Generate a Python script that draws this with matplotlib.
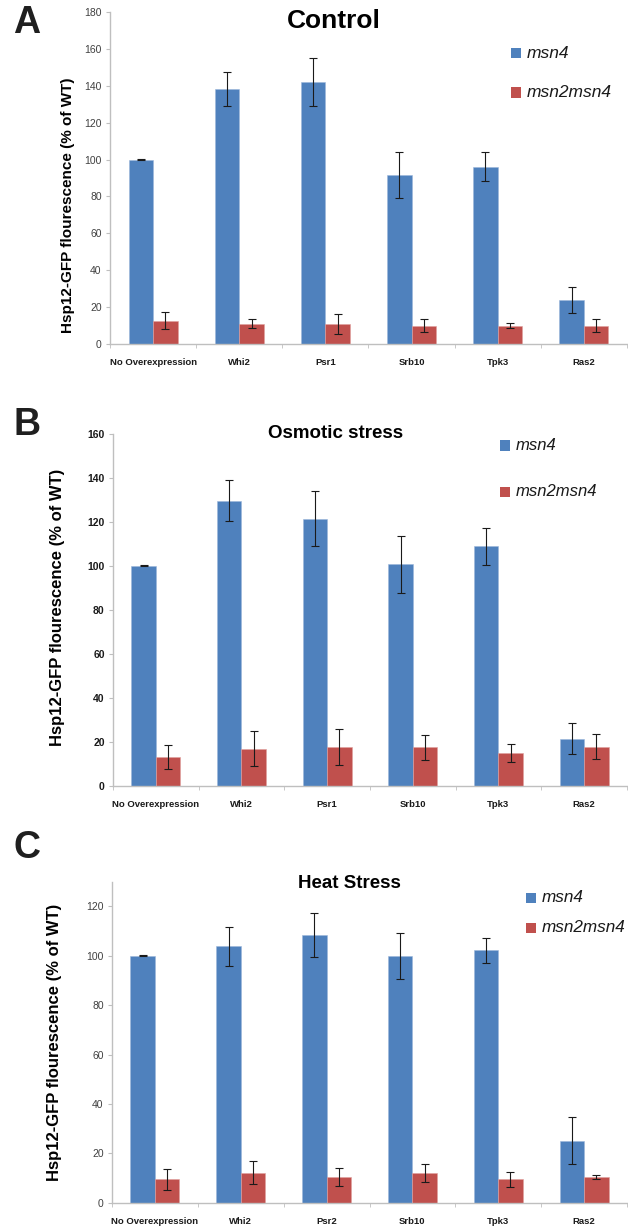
import matplotlib.pyplot as plt
import numpy as np
from matplotlib.patches import Rectangle

plt.rcParams['font.family'] = ['Liberation Sans', 'DejaVu Sans']

# Data
categories_ab = ['No Overexpression', 'Whi2', 'Psr1', 'Srb10', 'Tpk3', 'Ras2']
categories_c = ['No Overexpression', 'Whi2', 'Psr2', 'Srb10', 'Tpk3', 'Ras2']
series_names = ['msn4', 'msn2msn4']

control_msn4 = [100, 138.5, 141.8, 91.6, 96.1, 24.0]
control_msn4_err = [0.3, 9.2, 13.0, 12.3, 7.8, 7.1]
control_double = [12.6, 11.0, 11.0, 9.9, 9.9, 9.9]
control_double_err = [4.5, 2.4, 5.4, 3.5, 1.4, 3.5]

osmotic_msn4 = [100, 129.7, 121.5, 100.7, 108.9, 21.4]
osmotic_msn4_err = [0.2, 9.4, 12.5, 13.0, 8.3, 6.9]
osmotic_double = [13.2, 16.8, 17.7, 17.4, 14.9, 17.7]
osmotic_double_err = [5.4, 7.9, 8.3, 5.8, 3.9, 5.7]

heat_msn4 = [100, 103.8, 108.5, 100.0, 102.2, 25.1]
heat_msn4_err = [0.2, 7.9, 9.0, 9.3, 5.0, 9.5]
heat_double = [9.4, 12.1, 10.4, 12.1, 9.4, 10.4]
heat_double_err = [4.1, 4.6, 3.6, 3.6, 3.1, 1.0]

BLUE = '#4F81BD'
RED = '#C0504D'
AXIS = '#BFBFBF'
W, H = 628, 1230

fig = plt.figure(figsize=(6.28, 12.3), dpi=100)


def fx(px):
    return px / W


def fy(py):
    return 1 - py / H


def panel(box, cats, blue, blue_err, red, red_err, ymax, ytop, ybold,
          letter, letter_y, title, title_xy, title_size,
          ylab_xy, ylab_size, leg_x, leg_y, leg_size):
    left, top, right, bottom = box
    ax = fig.add_axes([fx(left), fy(bottom), (right - left) / W, (bottom - top) / H])
    x = np.arange(len(cats))
    w = 0.285
    ek = dict(ecolor='#1a1a1a', elinewidth=0.8, capsize=2.8, capthick=0.8)
    ax.bar(x - w / 2, blue, w, color=BLUE, edgecolor='#9DB7DB', linewidth=0.4,
           yerr=blue_err, error_kw=ek)
    ax.bar(x + w / 2, red, w, color=RED, edgecolor='#DFA09E', linewidth=0.4,
           yerr=red_err, error_kw=ek)
    ax.set_xlim(-0.5, len(cats) - 0.5)
    ax.set_ylim(0, ytop)
    ax.set_yticks(np.arange(0, ymax + 1, 20))
    for s in ['top', 'right']:
        ax.spines[s].set_visible(False)
    for s in ['left', 'bottom']:
        ax.spines[s].set_color(AXIS)
        ax.spines[s].set_linewidth(1)
    ax.set_xticks(x)
    ax.set_xticklabels(cats, fontsize=6.8, fontweight='bold', color='#1a1a1a')
    ax.set_xticks(np.arange(-0.5, len(cats), 1), minor=True)
    ax.tick_params(axis='x', which='major', length=0, pad=10)
    ax.tick_params(axis='x', which='minor', length=3, color=AXIS, direction='out')
    ax.tick_params(axis='y', length=3, color=AXIS, pad=3, labelsize=7.5,
                   labelcolor='#1a1a1a' if ybold else '#404040')
    if ybold:
        for t in ax.get_yticklabels():
            t.set_fontweight('bold')

    fig.text(fx(27), fy(letter_y), letter, fontsize=27, fontweight='bold',
             color='#1f1f1f', ha='center', va='center')
    fig.text(fx(title_xy[0]), fy(title_xy[1]), title, fontsize=title_size,
             fontweight='bold', ha='center', va='center')
    fig.text(fx(ylab_xy[0]), fy(ylab_xy[1]), 'Hsp12-GFP flourescence (% of WT)',
             fontsize=ylab_size, fontweight='bold', rotation=90,
             ha='center', va='center')
    for name, col, yy in zip(series_names, [BLUE, RED], leg_y):
        fig.add_artist(Rectangle((fx(leg_x), fy(yy + 5)), 10 / W, 10 / H,
                                 transform=fig.transFigure, facecolor=col,
                                 edgecolor='none'))
        fig.text(fx(leg_x + 16), fy(yy), name, fontsize=leg_size, style='italic',
                 ha='left', va='center', color='#1a1a1a')
    return ax


panel((110, 12, 627, 344), categories_ab, control_msn4, control_msn4_err,
      control_double, control_double_err, 180, 180, False,
      'A', 23, 'Control', (334, 21), 19, (68, 205), 11,
      511, (53, 92.5), 12.5)

panel((113, 434, 627, 785.7), categories_ab, osmotic_msn4, osmotic_msn4_err,
      osmotic_double, osmotic_double_err, 160, 160, True,
      'B', 425, 'Osmotic stress', (336, 434), 13.5, (58, 607), 12,
      500, (445.5, 492), 12)

panel((112, 881.7, 627, 1202.7), categories_c, heat_msn4, heat_msn4_err,
      heat_double, heat_double_err, 120, 130, False,
      'C', 848, 'Heat Stress', (349, 883), 13.5, (55, 1042), 12,
      526, (897.5, 928), 12.3)

plt.savefig('out.png', dpi=100)
